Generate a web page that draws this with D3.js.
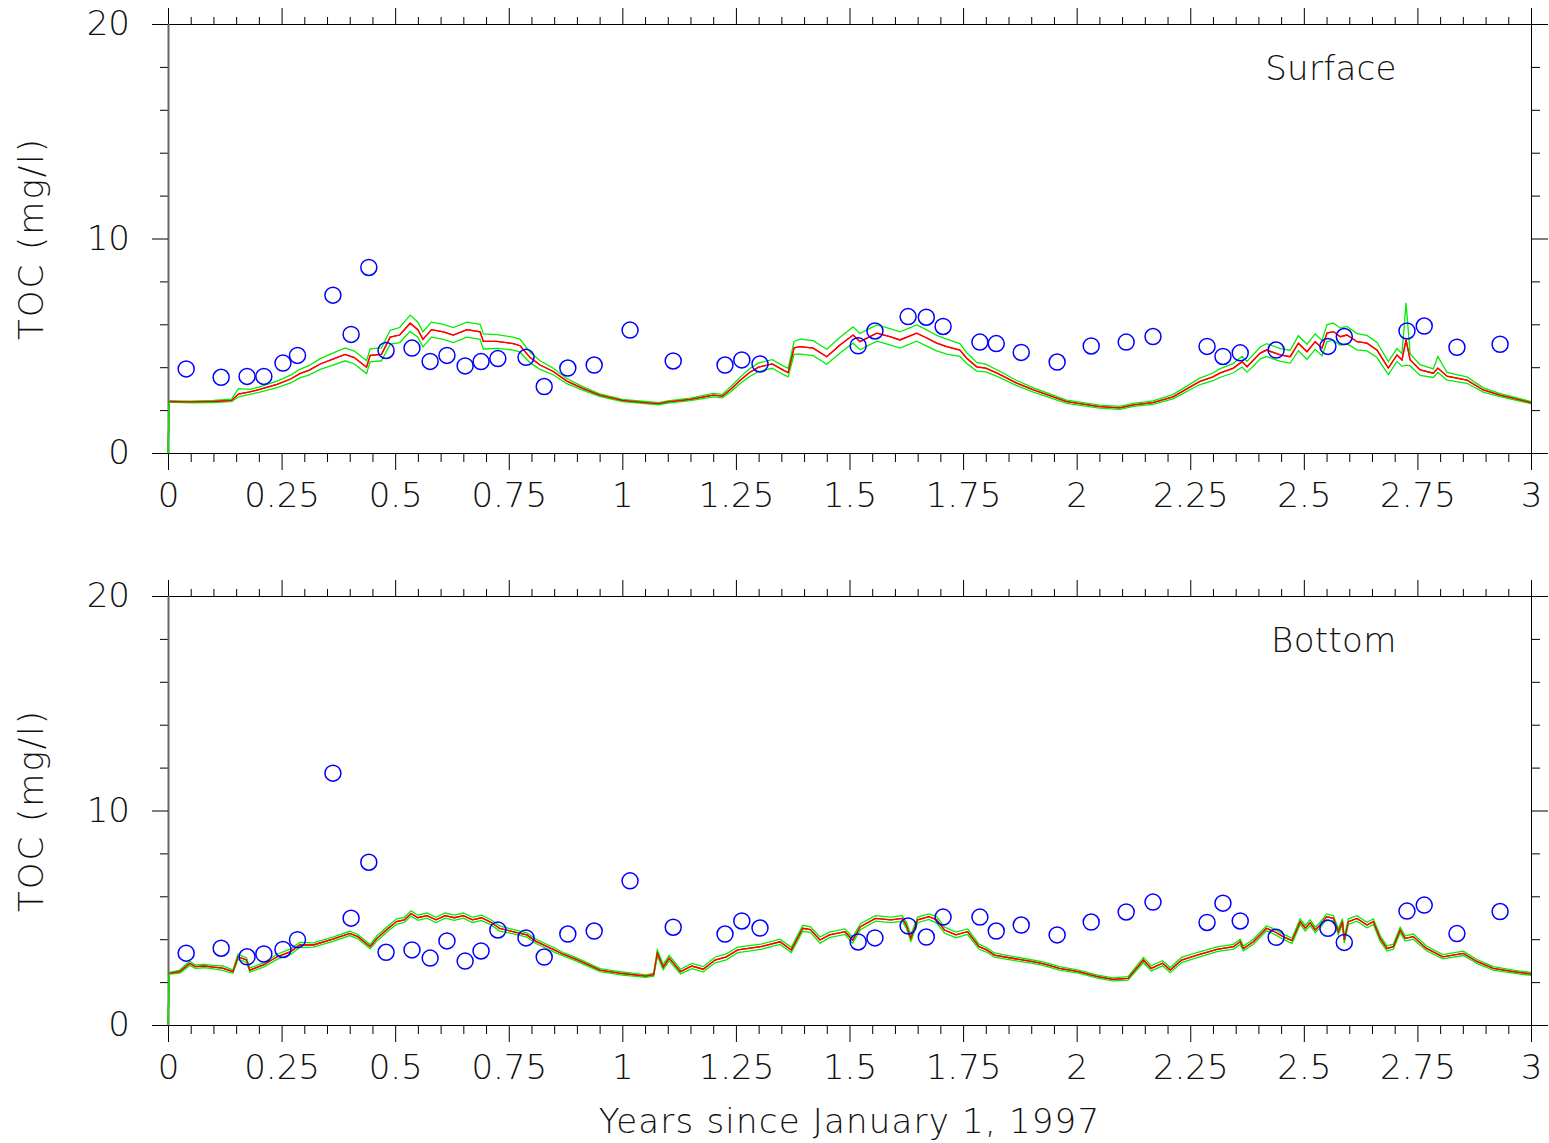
<!DOCTYPE html>
<html>
<head>
<meta charset="utf-8">
<script src="https://cdn.jsdelivr.net/npm/d3@7"></script>
<style>
  html, body { margin: 0; padding: 0; background: #fff; }
  svg text { font-family: 'DejaVu Sans', sans-serif; font-weight: 200; fill: #111; }
</style>
</head>
<body>
<svg id="chart" width="1549" height="1143"></svg>
<script>
// ---------- DATA ----------
const xTickLabels = ["0","0.25","0.5","0.75","1","1.25","1.5","1.75","2","2.25","2.5","2.75","3"];
const yTickLabels = ["0","10","20"];
const panelNames = ["Surface", "Bottom"];

// Observation dates (years since Jan 1, 1997)
const obsT = [0.040,0.117,0.174,0.211,0.253,0.285,0.363,0.403,0.442,0.480,0.537,0.577,0.614,0.654,0.689,0.726,0.788,0.828,0.880,0.938,1.017,1.112,1.226,1.263,1.303,1.519,1.556,1.629,1.669,1.706,1.787,1.823,1.878,1.957,2.032,2.109,2.168,2.287,2.322,2.360,2.439,2.553,2.589,2.727,2.765,2.837,2.932];
const surfaceObs = [3.92,3.53,3.57,3.57,4.19,4.55,7.36,5.53,8.65,4.78,4.89,4.27,4.55,4.06,4.26,4.40,4.46,3.10,3.96,4.10,5.73,4.29,4.10,4.34,4.15,5.00,5.69,6.36,6.33,5.90,5.17,5.10,4.69,4.24,4.99,5.17,5.43,4.97,4.50,4.67,4.80,4.97,5.43,5.69,5.92,4.93,5.07];
const bottomObs = [3.35,3.58,3.18,3.31,3.52,3.98,11.74,4.98,7.59,3.39,3.50,3.12,3.92,2.98,3.45,4.43,4.06,3.17,4.24,4.38,6.72,4.56,4.24,4.85,4.52,3.87,4.06,4.62,4.10,5.03,5.03,4.38,4.66,4.20,4.80,5.27,5.73,4.78,5.68,4.85,4.09,4.51,3.85,5.31,5.59,4.26,5.29];

// Surface model: time, mean (red), upper / lower (green)
const surfT = [0,0.003,0.05,0.10,0.14,0.155,0.18,0.20,0.24,0.27,0.29,0.31,0.335,0.36,0.39,0.41,0.437,0.445,0.47,0.489,0.51,0.533,0.55,0.561,0.58,0.606,0.628,0.658,0.687,0.694,0.724,0.76,0.775,0.797,0.819,0.848,0.878,0.914,0.95,1.0,1.05,1.08,1.1,1.15,1.2,1.22,1.24,1.26,1.28,1.3,1.33,1.355,1.365,1.378,1.391,1.42,1.45,1.479,1.508,1.523,1.56,1.589,1.611,1.648,1.67,1.692,1.714,1.743,1.758,1.78,1.80,1.825,1.868,1.905,1.978,2.05,2.095,2.125,2.168,2.212,2.27,2.30,2.315,2.345,2.364,2.375,2.404,2.418,2.448,2.47,2.488,2.507,2.525,2.54,2.551,2.565,2.58,2.595,2.617,2.639,2.661,2.686,2.705,2.716,2.725,2.734,2.756,2.785,2.795,2.815,2.859,2.895,2.932,3.0];
const surfMean = [0,2.40,2.38,2.40,2.45,2.75,2.85,2.95,3.2,3.45,3.7,3.85,4.15,4.35,4.6,4.45,4.0,4.55,4.6,5.4,5.5,6.05,5.75,5.3,5.75,5.65,5.5,5.75,5.65,5.2,5.2,5.1,5.0,4.45,4.1,3.8,3.35,3.0,2.7,2.45,2.35,2.3,2.38,2.5,2.7,2.65,3.0,3.4,3.75,4.0,4.15,3.85,3.75,4.9,4.96,4.89,4.49,5.03,5.5,5.19,5.59,5.42,5.27,5.59,5.36,5.12,4.96,4.8,4.42,4.02,3.96,3.72,3.26,2.94,2.39,2.16,2.1,2.24,2.35,2.62,3.33,3.55,3.72,3.96,4.26,4.02,4.66,4.8,4.57,4.49,5.12,4.72,5.19,4.89,5.59,5.66,5.42,5.5,5.19,5.12,4.8,3.96,4.57,4.34,5.27,4.34,3.87,3.72,3.96,3.58,3.4,2.94,2.7,2.35];
const surfUpper = [0,2.43,2.42,2.45,2.51,3.0,2.97,3.07,3.35,3.63,3.9,4.07,4.4,4.63,4.9,4.75,4.3,4.85,4.9,5.72,5.85,6.43,6.1,5.65,6.1,6.0,5.85,6.1,6.0,5.55,5.52,5.4,5.3,4.7,4.3,3.95,3.47,3.08,2.76,2.5,2.4,2.35,2.43,2.56,2.78,2.73,3.12,3.55,3.93,4.2,4.35,4.05,3.95,5.2,5.31,5.24,4.84,5.4,5.88,5.57,5.97,5.8,5.65,5.97,5.74,5.48,5.31,5.1,4.67,4.22,4.14,3.87,3.38,3.04,2.47,2.23,2.17,2.31,2.43,2.72,3.48,3.73,3.92,4.18,4.51,4.27,4.94,5.1,4.87,4.79,5.47,5.07,5.55,5.25,5.99,6.06,5.82,5.9,5.57,5.48,5.15,4.26,4.87,4.64,7.0,4.62,4.12,3.92,4.5,3.76,3.55,3.04,2.77,2.4];
const surfLower = [0,2.37,2.34,2.35,2.39,2.62,2.73,2.83,3.05,3.27,3.5,3.63,3.9,4.07,4.3,4.15,3.7,4.25,4.3,5.08,5.15,5.67,5.4,4.95,5.4,5.3,5.15,5.4,5.3,4.85,4.88,4.8,4.7,4.2,3.9,3.65,3.23,2.92,2.64,2.4,2.3,2.25,2.33,2.44,2.62,2.57,2.88,3.25,3.57,3.8,3.95,3.65,3.55,4.6,4.61,4.54,4.14,4.66,5.12,4.81,5.21,5.04,4.89,5.21,4.98,4.76,4.61,4.5,4.17,3.82,3.78,3.57,3.14,2.84,2.31,2.09,2.03,2.17,2.27,2.52,3.18,3.37,3.52,3.74,4.01,3.77,4.38,4.5,4.27,4.19,4.77,4.37,4.83,4.53,5.19,5.26,5.02,5.1,4.81,4.76,4.45,3.66,4.27,4.04,4.1,4.06,3.62,3.52,3.76,3.4,3.25,2.84,2.63,2.3];

// Bottom model
const botT = [0,0.003,0.026,0.048,0.06,0.08,0.10,0.12,0.143,0.154,0.173,0.18,0.21,0.24,0.27,0.29,0.32,0.363,0.40,0.418,0.445,0.46,0.485,0.503,0.52,0.535,0.55,0.57,0.59,0.61,0.63,0.65,0.67,0.69,0.71,0.73,0.75,0.77,0.79,0.81,0.83,0.85,0.87,0.90,0.951,1.0,1.052,1.069,1.077,1.09,1.103,1.128,1.153,1.178,1.204,1.229,1.254,1.305,1.347,1.372,1.397,1.414,1.435,1.456,1.49,1.507,1.524,1.557,1.591,1.616,1.625,1.635,1.65,1.675,1.692,1.709,1.734,1.76,1.785,1.802,1.819,1.861,1.903,1.928,1.962,2.004,2.046,2.08,2.113,2.147,2.164,2.189,2.206,2.231,2.265,2.309,2.345,2.36,2.367,2.389,2.418,2.44,2.454,2.474,2.492,2.503,2.514,2.525,2.536,2.55,2.565,2.576,2.585,2.589,2.598,2.617,2.639,2.653,2.668,2.683,2.697,2.712,2.723,2.741,2.77,2.806,2.851,2.882,2.917,2.961,3.0];
const botMean = [0,2.41,2.49,2.88,2.72,2.75,2.7,2.65,2.49,3.18,3.03,2.56,2.8,3.18,3.42,3.73,3.73,4.0,4.27,4.12,3.65,4.04,4.51,4.82,4.9,5.2,5.0,5.1,4.9,5.1,5.0,5.1,4.9,5.0,4.8,4.5,4.4,4.3,4.2,3.9,3.7,3.5,3.3,3.05,2.56,2.4,2.28,2.35,3.35,2.7,3.12,2.49,2.75,2.6,3.03,3.18,3.5,3.65,3.88,3.5,4.51,4.45,3.96,4.2,4.35,3.96,4.58,4.97,4.9,4.97,4.66,4.04,4.9,5.05,4.9,4.43,4.2,4.35,3.65,3.5,3.26,3.1,2.95,2.85,2.64,2.49,2.25,2.13,2.17,3.03,2.64,2.88,2.56,3.03,3.26,3.53,3.65,3.88,3.57,3.88,4.51,4.3,4.12,3.93,4.82,4.51,4.77,4.43,4.66,5.05,4.97,4.35,4.82,3.96,4.82,4.97,4.66,4.82,4.04,3.57,3.65,4.43,4.04,4.12,3.57,3.18,3.34,2.95,2.64,2.49,2.38];
const botUpper = [0,2.45,2.56,2.98,2.8,2.83,2.78,2.75,2.57,3.3,3.13,2.66,2.9,3.3,3.55,3.85,3.83,4.1,4.37,4.22,3.75,4.16,4.63,4.95,5.02,5.32,5.12,5.22,5.02,5.22,5.12,5.22,5.02,5.12,4.92,4.62,4.5,4.4,4.3,4.0,3.8,3.6,3.38,3.13,2.63,2.47,2.34,2.42,3.5,2.82,3.25,2.6,2.87,2.72,3.16,3.32,3.63,3.77,4.0,3.62,4.65,4.58,4.1,4.33,4.48,4.1,4.72,5.1,5.03,5.1,4.8,4.2,5.03,5.18,5.05,4.57,4.33,4.48,3.77,3.6,3.36,3.19,3.03,2.93,2.72,2.56,2.32,2.2,2.25,3.15,2.76,3.0,2.68,3.15,3.38,3.64,3.76,4.0,3.68,4.0,4.63,4.42,4.24,4.05,4.95,4.64,4.9,4.56,4.79,5.18,5.1,4.48,4.95,4.1,4.95,5.1,4.79,4.95,4.17,3.69,3.77,4.56,4.16,4.24,3.68,3.28,3.44,3.04,2.72,2.56,2.45];
const botLower = [0,2.37,2.42,2.78,2.64,2.67,2.62,2.55,2.41,3.06,2.93,2.46,2.7,3.06,3.29,3.61,3.63,3.9,4.17,4.02,3.55,3.92,4.39,4.69,4.78,5.08,4.88,4.98,4.78,4.98,4.88,4.98,4.78,4.88,4.68,4.38,4.3,4.2,4.1,3.8,3.6,3.4,3.22,2.97,2.49,2.33,2.22,2.28,3.2,2.58,2.99,2.38,2.63,2.48,2.9,3.04,3.37,3.53,3.76,3.38,4.37,4.32,3.82,4.07,4.22,3.82,4.44,4.84,4.77,4.84,4.52,3.9,4.77,4.92,4.75,4.29,4.07,4.22,3.53,3.4,3.16,3.01,2.87,2.77,2.56,2.42,2.18,2.06,2.09,2.91,2.52,2.76,2.44,2.91,3.14,3.42,3.54,3.76,3.46,3.76,4.39,4.18,4.0,3.81,4.69,4.38,4.64,4.3,4.53,4.92,4.84,4.22,4.69,3.82,4.69,4.84,4.53,4.69,3.91,3.45,3.53,4.3,3.92,4.0,3.46,3.08,3.24,2.86,2.56,2.42,2.31];

// ---------- DRAWING ----------
const svg = d3.select("#chart");
const x = d3.scaleLinear().domain([0, 3]).range([168, 1531]);
const FONT = 34;

const panels = [
  {name: panelNames[0], top: 24, bottom: 453, T: surfT, mean: surfMean, up: surfUpper, lo: surfLower, obs: surfaceObs, lx: 2.415},
  {name: panelNames[1], top: 596, bottom: 1025, T: botT, mean: botMean, up: botUpper, lo: botLower, obs: bottomObs, lx: 2.428}
];

const majorX = d3.range(0, 13).map(i => i * 0.25);
const minorX = d3.range(0, 61).map(i => i * 0.05).filter(v => Math.abs(v / 0.25 - Math.round(v / 0.25)) > 1e-6);
const majorY = [0, 10, 20];
const minorY = [2, 4, 6, 8, 12, 14, 16, 18];

function styleAxis(g) {
  g.selectAll("path.domain").attr("stroke", "#000").attr("stroke-width", 1);
  g.selectAll(".tick line").attr("stroke", "#000").attr("stroke-width", 1);
}

panels.forEach((p, pi) => {
  const y = d3.scaleLinear().domain([0, 20]).range([p.bottom, p.top]);
  const g = svg.append("g");

  // bottom axis: minor
  g.append("g").attr("transform", `translate(0,${p.bottom})`)
    .call(d3.axisBottom(x).tickValues(minorX).tickSize(9).tickSizeOuter(0).tickFormat(""))
    .call(styleAxis).call(a => a.select(".domain").remove());
  // bottom axis: major with labels
  g.append("g").attr("transform", `translate(0,${p.bottom})`)
    .call(d3.axisBottom(x).tickValues(majorX).tickSize(17).tickSizeOuter(0).tickPadding(13)
      .tickFormat((d, i) => xTickLabels[i]))
    .call(styleAxis)
    .call(a => a.selectAll("text").attr("font-size", FONT).attr("fill", "#111")
      .attr("font-family", "'DejaVu Sans', sans-serif").attr("font-weight", 200));

  // top axis
  g.append("g").attr("transform", `translate(0,${p.top})`)
    .call(d3.axisTop(x).tickValues(minorX).tickSize(7).tickSizeOuter(0).tickFormat(""))
    .call(styleAxis).call(a => a.select(".domain").remove());
  g.append("g").attr("transform", `translate(0,${p.top})`)
    .call(d3.axisTop(x).tickValues(majorX).tickSize(16).tickSizeOuter(0).tickFormat(""))
    .call(styleAxis);

  // left axis
  g.append("g").attr("transform", `translate(${x(0)},0)`)
    .call(d3.axisLeft(y).tickValues(minorY).tickSize(8).tickSizeOuter(0).tickFormat(""))
    .call(styleAxis).call(a => a.select(".domain").remove());
  g.append("g").attr("transform", `translate(${x(0)},0)`)
    .call(d3.axisLeft(y).tickValues(majorY).tickSize(16).tickSizeOuter(0).tickPadding(22)
      .tickFormat((d, i) => yTickLabels[i]))
    .call(styleAxis)
    .call(a => a.select(".domain").attr("stroke", "#666").attr("stroke-width", 2))
    .call(a => a.selectAll("text").attr("font-size", FONT).attr("fill", "#111")
      .attr("font-family", "'DejaVu Sans', sans-serif").attr("font-weight", 200));

  // right axis
  g.append("g").attr("transform", `translate(${x(3)},0)`)
    .call(d3.axisRight(y).tickValues(minorY).tickSize(9).tickSizeOuter(0).tickFormat(""))
    .call(styleAxis).call(a => a.select(".domain").remove());
  g.append("g").attr("transform", `translate(${x(3)},0)`)
    .call(d3.axisRight(y).tickValues(majorY).tickSize(17).tickSizeOuter(0).tickFormat(""))
    .call(styleAxis);

  // model lines
  const line = d3.line().x(d => x(d[0])).y(d => y(d[1]));
  const upData = p.T.map((t, i) => [t, p.up[i]]);
  const loData = p.T.map((t, i) => [t, p.lo[i]]);
  const meanData = p.T.map((t, i) => [t, p.mean[i]]);
  g.append("path").datum(meanData).attr("d", line).attr("fill", "none").attr("stroke", "#ff0000").attr("stroke-width", 1.3);
  g.append("path").datum(upData).attr("d", line).attr("fill", "none").attr("stroke", "#00ee00").attr("stroke-width", 1.3);
  g.append("path").datum(loData).attr("d", line).attr("fill", "none").attr("stroke", "#00ee00").attr("stroke-width", 1.3);
  // red drawn again on top where it matters (centre line above band)
  g.append("path").datum(meanData.slice(1)).attr("d", line).attr("fill", "none").attr("stroke", "#ff0000").attr("stroke-width", 1.3);

  // observations
  g.selectAll("circle.obs").data(obsT.map((t, i) => [t, p.obs[i]])).enter()
    .append("circle").attr("class", "obs")
    .attr("cx", d => x(d[0])).attr("cy", d => y(d[1])).attr("r", 8)
    .attr("fill", "none").attr("stroke", "#0000ff").attr("stroke-width", 1.5);

  // panel name
  g.append("text").attr("x", x(p.lx)).attr("y", y(17.39))
    .attr("font-size", FONT).attr("letter-spacing", 0.3).text(p.name);

  // y axis title
  g.append("text")
    .attr("transform", `translate(43,${(p.top + p.bottom) / 2}) rotate(-90)`)
    .attr("text-anchor", "middle").attr("font-size", FONT).attr("letter-spacing", 2)
    .text("TOC (mg/l)");
});

// x axis title
svg.append("text").attr("x", x(1.5)).attr("y", 1133).attr("text-anchor", "middle")
  .attr("font-size", FONT).attr("letter-spacing", 1.2)
  .text("Years since January 1, 1997");
</script>
</body>
</html>
